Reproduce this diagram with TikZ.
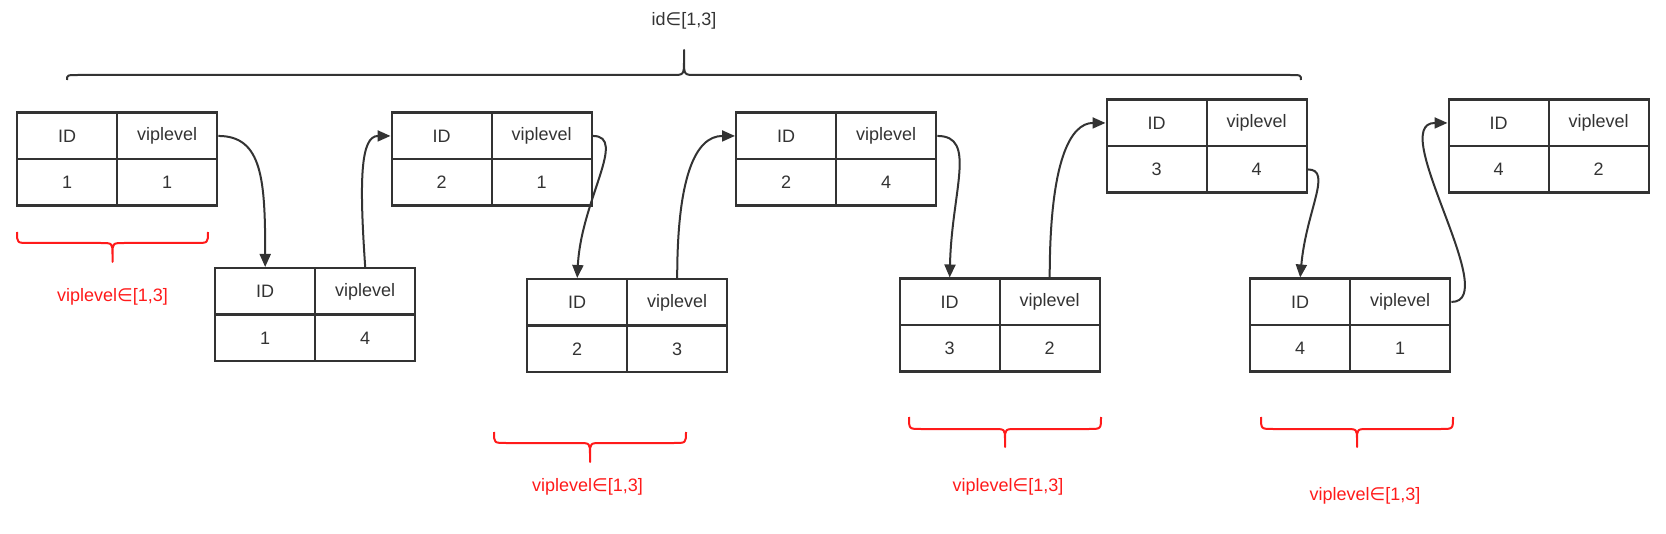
\documentclass[tikz,border=0pt]{standalone}
\usepackage{fontspec}
\setmainfont{Liberation Sans}
\newfontfamily\symfont{DejaVu Sans}
\usetikzlibrary{arrows.meta}
\definecolor{ink}{HTML}{333333}
\definecolor{redink}{HTML}{FF1A1A}
\newcommand{\elem}{{\symfont ∈}}
% name, x, y (top-left), id value, viplevel value
\newcommand{\mytable}[5]{%
  \node[cell,anchor=north west] (#1a) at (#2,#3) {ID};
  \node[cell,anchor=north west] (#1b) at ({#2+100},#3) {viplevel};
  \node[cell,anchor=north west] (#1c) at (#2,{#3+46.5}) {#4};
  \node[cell,anchor=north west] (#1d) at ({#2+100},{#3+46.5}) {#5};
}
% style, x1, x2, yend, yline, ytip
\newcommand{\mybrace}[6]{%
  \draw[#1] (#2,#4) .. controls (#2,#5) .. ({#2+12},#5)
    -- ({(#2+#3)/2-12},#5) .. controls ({(#2+#3)/2},#5) .. ({(#2+#3)/2},{#5+0.6*(#6-#5)}) -- ({(#2+#3)/2},#6)
    -- ({(#2+#3)/2},{#5+0.6*(#6-#5)}) .. controls ({(#2+#3)/2},#5) .. ({(#2+#3)/2+12},#5)
    -- ({#3-12},#5) .. controls (#3,#5) .. (#3,#4);
}
\begin{document}
\begin{tikzpicture}[x=0.5pt,y=-0.5pt,
  cell/.style={draw=ink,line width=1.2pt,minimum width=50pt,minimum height=23.25pt,
    inner sep=0pt,text=ink,font=\fontsize{9}{11}\selectfont},
  link/.style={draw=ink,line width=1pt,-{Triangle[length=6.5pt,width=5.5pt]}},
  graybrace/.style={draw=ink,line width=1pt,line join=round},
  redbrace/.style={draw=redink,line width=1pt,line join=round},
  redlabel/.style={text=redink,font=\fontsize{9}{11}\selectfont,inner sep=1pt},
  graylabel/.style={text=ink,font=\fontsize{9}{11}\selectfont,inner sep=1pt}]
\useasboundingbox (0,0) rectangle (1666,534);

\mytable{A}{16}{111.5}{1}{1}
\mytable{B}{214}{267}{1}{4}
\mytable{C}{390.5}{111.5}{2}{1}
\mytable{D}{526}{278}{2}{3}
\mytable{E}{735}{111.5}{2}{4}
\mytable{F}{898.5}{277.5}{3}{2}
\mytable{G}{1105.5}{98.5}{3}{4}
\mytable{H}{1249}{277.5}{4}{1}
\mytable{I}{1447.5}{98.5}{4}{2}

\draw[link] (Ab.east) .. controls +(44,0) and +(0,-87) .. (Ba.north);
\draw[link] (Bb.north) .. controls +(-6,-87) and +(-30,0) .. (Ca.west);
\draw[link] (Cb.east) .. controls +(35,0) and +(4,-78) .. (Da.north);
\draw[link] (Db.north) .. controls +(0,-100) and +(-40,0) .. (Ea.west);
\draw[link] (Eb.east) .. controls +(40,0) and +(2,-87) .. (Fa.north);
\draw[link] (Fb.north) .. controls +(0,-117) and +(-35,0) .. (Ga.west);
\draw[link] (Gd.east) .. controls +(25,0) and +(6,-67) .. (Ha.north);
\draw[link] (Hb.east) .. controls +(52,0) and +(-62,0) .. (Ia.west);

\mybrace{graybrace}{67}{1301}{80}{75}{50}
\node[graylabel] (top) at (684,21) {id\elem[1,3]};

\mybrace{redbrace}{17}{208}{232}{243}{262}
\mybrace{redbrace}{494}{686}{432}{443}{462}
\mybrace{redbrace}{909}{1101}{417}{429}{447}
\mybrace{redbrace}{1261}{1453}{417}{429}{447}
\node[redlabel] (lA) at (112.5,297) {viplevel\elem[1,3]};
\node[redlabel] (lD) at (587.5,487) {viplevel\elem[1,3]};
\node[redlabel] (lF) at (1008,487) {viplevel\elem[1,3]};
\node[redlabel] (lH) at (1365,496) {viplevel\elem[1,3]};
\end{tikzpicture}
\end{document}
